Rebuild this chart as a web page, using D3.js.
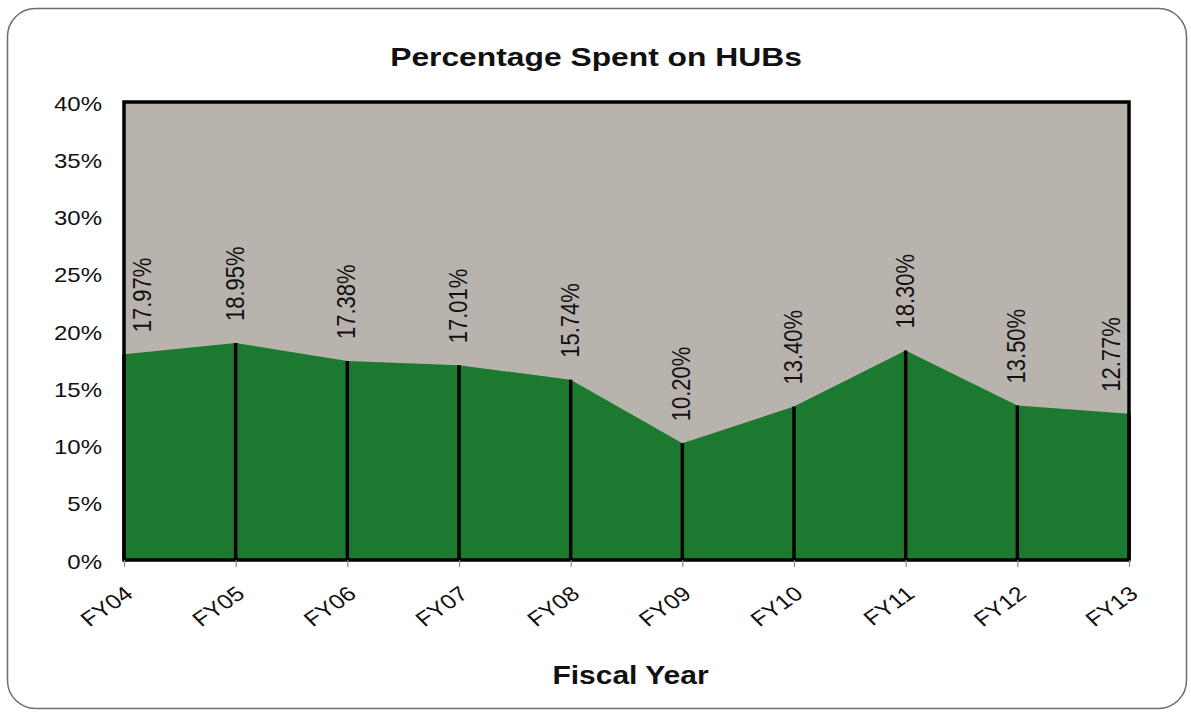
<!DOCTYPE html>
<html>
<head>
<meta charset="utf-8">
<script src="https://cdn.jsdelivr.net/npm/d3@7"></script>
<style>
  html, body { margin: 0; padding: 0; background: #ffffff; }
  svg { display: block; font-family: Arial, "Liberation Sans", sans-serif; }
</style>
</head>
<body>
<svg id="chart" width="1191" height="714"></svg>
<script>
// Share of spending that went to HUB vendors, by fiscal year (percent)
const years = ["FY04", "FY05", "FY06", "FY07", "FY08", "FY09", "FY10", "FY11", "FY12", "FY13"];
const hubShare = [17.97, 18.95, 17.38, 17.01, 15.74, 10.20, 13.40, 18.30, 13.50, 12.77];
const yTickValues = [0, 5, 10, 15, 20, 25, 30, 35, 40];

const chartTitle = "Percentage Spent on HUBs";
const xAxisTitle = "Fiscal Year";

const plot = { left: 124, right: 1129, top: 102, bottom: 560 };
const SX = 1.2; // horizontal glyph widening used for all lettering

const svg = d3.select("#chart");

// card outline
svg.append("rect")
  .attr("x", 7.5).attr("y", 8.5)
  .attr("width", 1179).attr("height", 700)
  .attr("rx", 28).attr("ry", 28)
  .attr("fill", "#ffffff")
  .attr("stroke", "#6e6e6e")
  .attr("stroke-width", 1.5);

const x = d3.scalePoint().domain(years).range([plot.left, plot.right]);
const y = d3.scaleLinear().domain([0, 40]).range([plot.bottom, plot.top]);

// plot background
svg.append("rect")
  .attr("x", plot.left).attr("y", plot.top)
  .attr("width", plot.right - plot.left).attr("height", plot.bottom - plot.top)
  .attr("fill", "#b9b3ae");

// filled area
const area = d3.area()
  .x((d, i) => x(years[i]))
  .y0(y(0))
  .y1(d => y(d))
  .curve(d3.curveLinear);

svg.append("path")
  .datum(hubShare)
  .attr("d", area)
  .attr("fill", "#1c7a30");

// drop lines from each point to the baseline
svg.append("g")
  .selectAll("line")
  .data(hubShare)
  .join("line")
  .attr("x1", (d, i) => x(years[i]))
  .attr("x2", (d, i) => x(years[i]))
  .attr("y1", d => y(d))
  .attr("y2", y(0))
  .attr("stroke", "#000")
  .attr("stroke-width", 3.5);

// plot frame
svg.append("rect")
  .attr("x", plot.left).attr("y", plot.top)
  .attr("width", plot.right - plot.left).attr("height", plot.bottom - plot.top)
  .attr("fill", "none")
  .attr("stroke", "#000")
  .attr("stroke-width", 3.5);

// y axis labels
const yAxis = d3.axisLeft(y)
  .tickValues(yTickValues)
  .tickSize(0)
  .tickFormat(d => d + "%");

const yG = svg.append("g")
  .attr("transform", `translate(${plot.left},0)`)
  .call(yAxis);
yG.select(".domain").remove();
yG.selectAll(".tick text")
  .attr("x", null).attr("dy", null)
  .attr("transform", `translate(-22,8) scale(${SX},1)`)
  .attr("text-anchor", "end")
  .attr("font-size", 20)
  .attr("font-family", "Arial, 'Liberation Sans', sans-serif")
  .attr("fill", "#111");

// x axis ticks and labels
const xAxis = d3.axisBottom(x).tickSize(7).tickSizeOuter(0);
const xG = svg.append("g")
  .attr("transform", `translate(0,${plot.bottom})`)
  .call(xAxis);
xG.select(".domain").remove();
xG.selectAll(".tick line").attr("stroke", "#8a8a8a").attr("stroke-width", 1.2);
xG.selectAll(".tick text")
  .attr("y", null).attr("dy", null)
  .attr("transform", `translate(10,36) scale(${SX},1) rotate(-40)`)
  .attr("text-anchor", "end")
  .attr("font-size", 20.5)
  .attr("font-family", "Arial, 'Liberation Sans', sans-serif")
  .attr("fill", "#111");

// value labels above each point, reading upwards
const labelGap = 22;
svg.append("g")
  .selectAll("text")
  .data(hubShare)
  .join("text")
  .attr("transform", (d, i) => {
    const px = Math.max(plot.left + 27, Math.min(plot.right - 9, x(years[i]) + 8));
    return `translate(${px},${y(d) - labelGap}) scale(${SX},1) rotate(-90)`;
  })
  .attr("text-anchor", "start")
  .attr("font-size", 22)
  .attr("fill", "#111")
  .text(d => d.toFixed(2) + "%");

// chart title
svg.append("text")
  .attr("transform", `translate(596,66) scale(${SX},1)`)
  .attr("text-anchor", "middle")
  .attr("font-size", 26.5)
  .attr("font-weight", "bold")
  .attr("fill", "#111")
  .text(chartTitle);

// x axis title
svg.append("text")
  .attr("transform", `translate(${(plot.left + plot.right) / 2 + 4},684) scale(${SX},1)`)
  .attr("text-anchor", "middle")
  .attr("font-size", 25)
  .attr("font-weight", "bold")
  .attr("fill", "#111")
  .text(xAxisTitle);
</script>
</body>
</html>
